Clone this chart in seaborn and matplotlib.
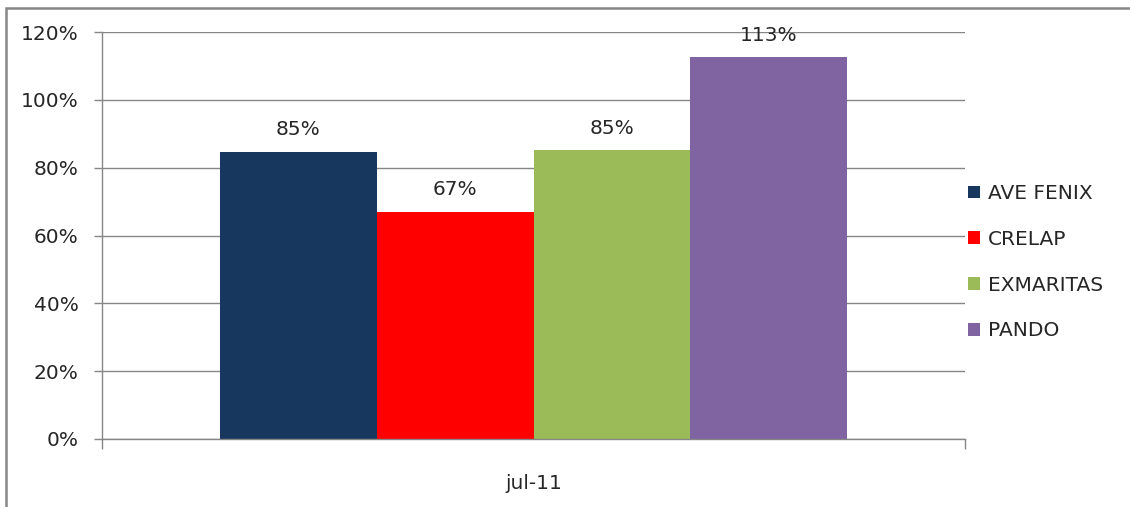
import pandas as pd
import matplotlib.pyplot as plt
import seaborn as sns
from matplotlib.patches import Patch, Rectangle
from matplotlib.ticker import PercentFormatter

# chart data
period = ["jul-11"]
series = ["AVE FENIX", "CRELAP", "EXMARITAS", "PANDO"]
values = [0.847, 0.67, 0.852, 1.126]
labels = ["85%", "67%", "85%", "113%"]
colors = ["#17375E", "#FF0000", "#9BBB59", "#8064A2"]
yticks = [0, 0.2, 0.4, 0.6, 0.8, 1.0, 1.2]

df = pd.DataFrame({"period": period * len(series), "serie": series, "value": values})

sns.set_style("white")
plt.rcParams['font.family'] = ['DejaVu Sans']
grid_color = "#868686"
text_color = "#262626"
fs = 14.5

fig = plt.figure(figsize=(11.3, 5.07), dpi=100)
ax = fig.add_axes([102 / 1130, 1 - 439 / 507, 863 / 1130, 407 / 507])

sns.barplot(data=df, x="period", y="value", hue="serie", hue_order=series,
            palette=colors, width=0.727, saturation=1, linewidth=0,
            ax=ax, legend=False)

for cont, lab in zip(ax.containers, labels):
    ax.bar_label(cont, labels=[lab], padding=9, fontsize=fs, color=text_color)

ax.set_ylim(0, 1.2)
ax.set_xlim(-0.5, 0.5)
ax.set_yticks(yticks)
ax.yaxis.set_major_formatter(PercentFormatter(1.0, decimals=0))
ax.yaxis.grid(True, color=grid_color, linewidth=1)
ax.set_axisbelow(True)
ax.set_xlabel("")
ax.set_ylabel("")

ax.tick_params(axis="y", length=6, width=1, color=grid_color, pad=11,
               labelsize=fs, labelcolor=text_color, left=True, direction="out")
ax.tick_params(axis="x", which="major", length=0, pad=25, labelsize=fs,
               labelcolor=text_color)
ax.set_xticks([-0.5, 0.5], minor=True)
ax.tick_params(axis="x", which="minor", length=7, width=1, color=grid_color,
               bottom=True, direction="out")

for side in ["top", "right"]:
    ax.spines[side].set_visible(False)
for side in ["left", "bottom"]:
    ax.spines[side].set_color(grid_color)
    ax.spines[side].set_linewidth(1)

handles = [Patch(facecolor=c, edgecolor="none", label=s) for c, s in zip(colors, series)]
fig.legend(handles=handles, loc="upper left", bbox_to_anchor=(968 / 1130, 1 - 184 / 507),
           frameon=False, fontsize=fs, handlelength=0.6, handleheight=0.6,
           handletextpad=0.4, labelspacing=1.33, borderaxespad=0, borderpad=0,
           labelcolor=text_color)

# outer chart border
fig.patches.append(Rectangle((6 / 1130, -0.1), 1.2, 1 - 8 / 507 + 0.1,
                             transform=fig.transFigure, fill=False,
                             edgecolor=grid_color, linewidth=1.8))

fig.savefig("out.png", dpi=100)
